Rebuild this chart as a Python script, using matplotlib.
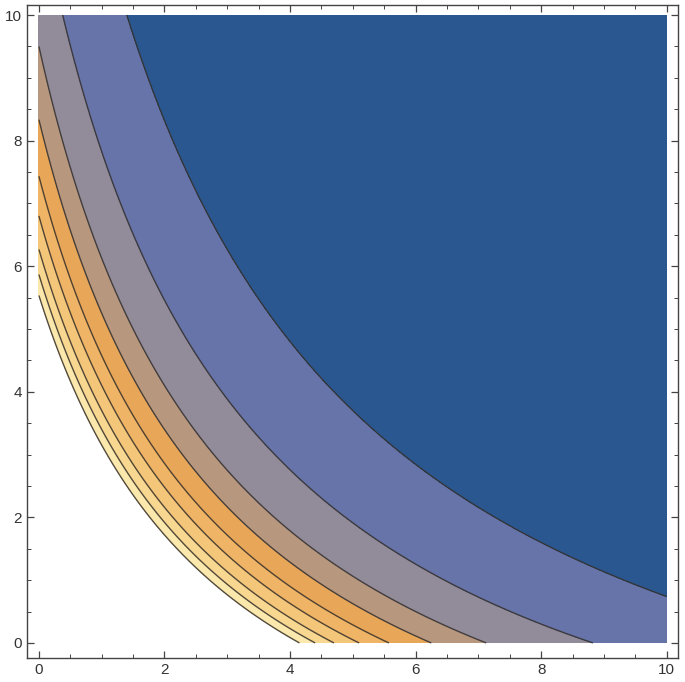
import numpy as np
import matplotlib
matplotlib.use('Agg')
import matplotlib.pyplot as plt
from matplotlib.ticker import MultipleLocator

plt.rcParams['font.family'] = ['Liberation Sans', 'DejaVu Sans']

# field of the form (x + x_shift) * (y + y_shift)
x_shift = 3.0
y_shift = 4.0

# contour values (from where the curves meet the axes)
levels = [28.6, 29.6, 30.8, 32.4, 34.3, 37.0, 40.5, 47.3, 61.6]

band_colors = [
    '#ffffff',  # inside the first curve
    '#fbe8ad',
    '#f8d891',
    '#f4c67a',
    '#efb465',
    '#e8a659',
    '#b8977f',
    '#928b99',
    '#6674a9',
    '#2a5790',
]

xs = np.linspace(0, 10, 401)
ys = np.linspace(0, 10, 401)
X, Y = np.meshgrid(xs, ys)
Z = (X + x_shift) * (Y + y_shift)

fig = plt.figure(figsize=(6.85, 6.82), dpi=100)
ax = fig.add_axes([27 / 685, 24 / 682, 651 / 685, 653 / 682])

bounds = [Z.min() - 1] + levels + [Z.max() + 1]
ax.contourf(X, Y, Z, levels=bounds, colors=band_colors)
ax.contour(X, Y, Z, levels=levels, colors='#35302b', linewidths=1.0, alpha=0.85)

ax.set_xlim(-0.19, 10.18)
ax.set_ylim(-0.24, 10.16)

ax.xaxis.set_major_locator(MultipleLocator(2))
ax.yaxis.set_major_locator(MultipleLocator(2))
ax.xaxis.set_minor_locator(MultipleLocator(0.5))
ax.yaxis.set_minor_locator(MultipleLocator(0.5))
ax.tick_params(which='both', direction='in', top=True, right=True,
               color='#444444', labelcolor='#333333', labelsize=11)
ax.tick_params(which='major', length=5, width=0.9)
ax.tick_params(which='minor', length=3, width=0.7)
for s in ax.spines.values():
    s.set_color('#444444')
    s.set_linewidth(1.0)

fig.savefig('out.png', dpi=100)
